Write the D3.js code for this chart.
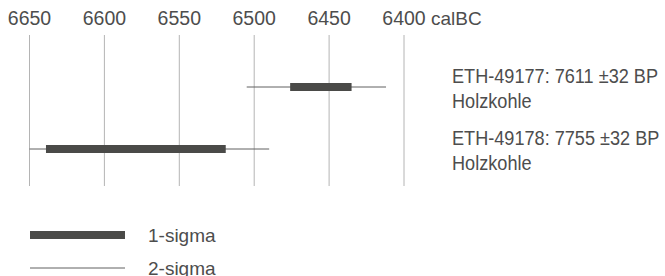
<!DOCTYPE html>
<html>
<head>
<meta charset="utf-8">
<script src="https://cdn.jsdelivr.net/npm/d3@7"></script>
<style>
  body { margin: 0; background: #fff; }
  text { font-family: "Liberation Sans", Arial, sans-serif; fill: #4d4d4d; }
</style>
</head>
<body>
<div id="chart"></div>
<script>
// calibrated ranges, years calBC
var tickYears = [6650, 6600, 6550, 6500, 6450, 6400];
var samples = ["ETH-49177: 7611 ±32 BP", "ETH-49178: 7755 ±32 BP"];
var materials = ["Holzkohle", "Holzkohle"];
var sigma1 = [[6476, 6435], [6639, 6519]];
var sigma2 = [[6505, 6412], [6650, 6490]];
var legendLabels = ["1-sigma", "2-sigma"];

var width = 665, height = 276;
var squeeze = 0.93; // labels look like a condensed face

var svg = d3.select("#chart").append("svg")
    .attr("width", width)
    .attr("height", height);

var x = d3.scaleLinear().domain([6650, 6400]).range([29.5, 404]);
var y = d3.scalePoint().domain(samples).range([87, 149]);

// grid lines
svg.append("g").selectAll("line")
  .data(tickYears)
  .enter().append("line")
    .attr("x1", function(d) { return x(d); })
    .attr("x2", function(d) { return x(d); })
    .attr("y1", 35)
    .attr("y2", 186)
    .attr("stroke", "#b4b4b4")
    .attr("stroke-width", 1);

// tick labels
svg.append("g").selectAll("text")
  .data(tickYears)
  .enter().append("text")
    .attr("x", function(d) { return x(d); })
    .attr("y", 25)
    .attr("text-anchor", "middle")
    .style("font-size", "19.5px")
    .text(function(d) { return d; });

svg.append("text")
  .attr("x", x(6400) + 27)
  .attr("y", 25)
  .style("font-size", "19px")
  .text("calBC");

// 2-sigma lines
svg.append("g").selectAll("line")
  .data(samples)
  .enter().append("line")
    .attr("x1", function(d, i) { return x(sigma2[i][0]); })
    .attr("x2", function(d, i) { return x(sigma2[i][1]); })
    .attr("y1", function(d) { return y(d); })
    .attr("y2", function(d) { return y(d); })
    .attr("stroke", "#606060")
    .attr("stroke-width", 1);

// 1-sigma bars
svg.append("g").selectAll("rect")
  .data(samples)
  .enter().append("rect")
    .attr("x", function(d, i) { return x(sigma1[i][0]); })
    .attr("width", function(d, i) { return x(sigma1[i][1]) - x(sigma1[i][0]); })
    .attr("y", function(d) { return y(d) - 4; })
    .attr("height", 8)
    .attr("fill", "#4a4a48");

// sample labels
var lab = svg.append("g")
    .attr("transform", "translate(452,0) scale(" + squeeze + ",1)")
  .selectAll("text")
  .data(samples)
  .enter().append("text")
    .attr("x", 0)
    .attr("y", function(d) { return y(d) - 3.5; })
    .style("font-size", "19.5px");
lab.append("tspan").text(function(d) { return d; });
lab.append("tspan")
    .attr("x", 0)
    .attr("dy", 25)
    .text(function(d, i) { return materials[i]; });

// legend
var leg = svg.append("g").selectAll("g")
  .data(legendLabels)
  .enter().append("g")
    .attr("transform", function(d, i) { return "translate(30," + (235 + i * 33) + ")"; });

leg.filter(function(d, i) { return i === 0; }).append("rect")
    .attr("x", 0).attr("y", -4)
    .attr("width", 95).attr("height", 8)
    .attr("fill", "#4a4a48");
leg.filter(function(d, i) { return i === 1; }).append("line")
    .attr("x1", 0).attr("x2", 95)
    .attr("stroke", "#606060").attr("stroke-width", 1);

leg.append("text")
    .attr("x", 118)
    .attr("y", 7)
    .attr("transform", "scale(1,1)")
    .style("font-size", "19px")
    .text(function(d) { return d; });
</script>
</body>
</html>
